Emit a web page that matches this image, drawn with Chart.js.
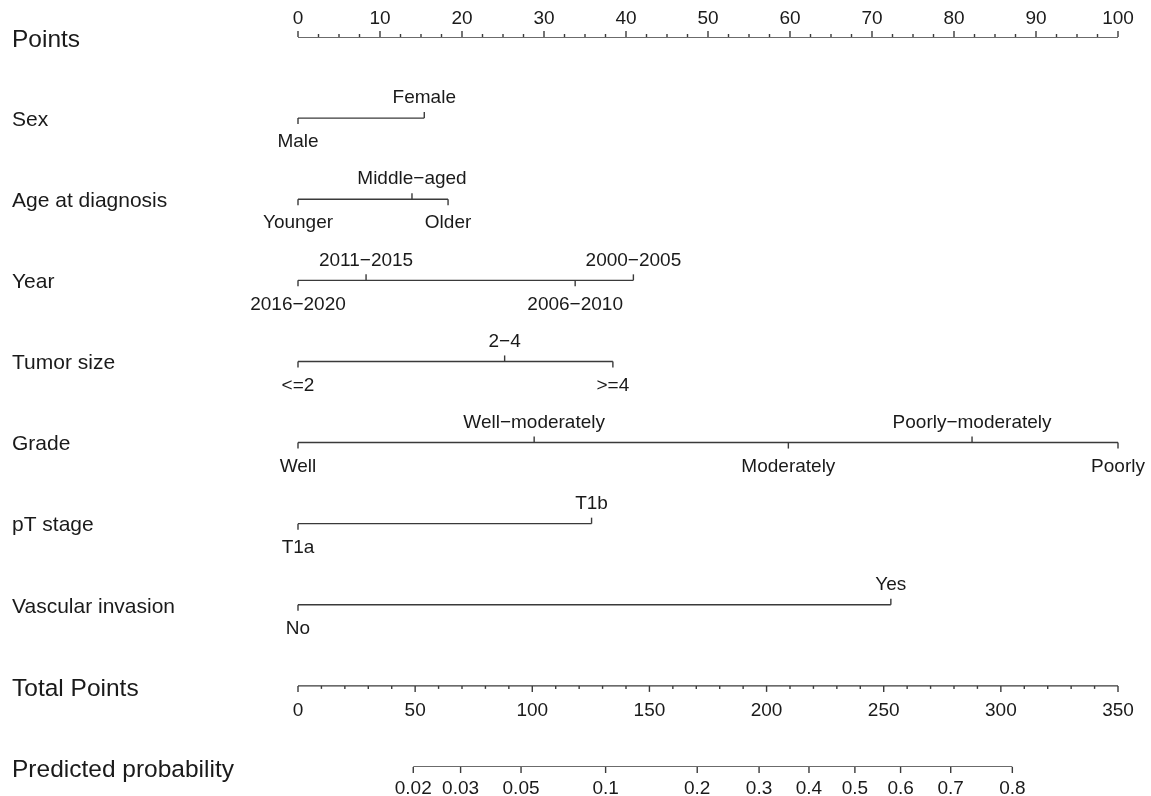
<!DOCTYPE html>
<html>
<head>
<meta charset="utf-8">
<title>Nomogram</title>
<script src="https://cdn.jsdelivr.net/npm/chart.js@4.4.1/dist/chart.umd.min.js"></script>
<style>
  html, body { margin: 0; padding: 0; background: #fff; }
  #wrap { width: 1151px; height: 796px; position: relative; }
</style>
</head>
<body>
<div id="wrap"><canvas id="nomogram"></canvas></div>
<script>
// Row titles, top to bottom
const rowTitles = ["Points", "Sex", "Age at diagnosis", "Year", "Tumor size", "Grade",
  "pT stage", "Vascular invasion", "Total Points", "Predicted probability"];

// Points scale ticks
const pointsTicks = [0, 10, 20, 30, 40, 50, 60, 70, 80, 90, 100];

// Variables: level names and their points (sorted by points)
const sexLevels = ["Male", "Female"];
const sexPoints = [0, 15.4];
const ageLevels = ["Younger", "Middle\u2212aged", "Older"];
const agePoints = [0, 13.9, 18.3];
const yearLevels = ["2016\u22122020", "2011\u22122015", "2006\u22122010", "2000\u22122005"];
const yearPoints = [0, 8.3, 33.8, 40.9];
const tumorLevels = ["<=2", "2\u22124", ">=4"];
const tumorPoints = [0, 25.2, 38.4];
const gradeLevels = ["Well", "Well\u2212moderately", "Moderately", "Poorly\u2212moderately", "Poorly"];
const gradePoints = [0, 28.8, 59.8, 82.2, 100];
const ptLevels = ["T1a", "T1b"];
const ptPoints = [0, 35.8];
const vascLevels = ["No", "Yes"];
const vascPoints = [0, 72.3];

// Total points scale ticks
const totalTicks = [0, 50, 100, 150, 200, 250, 300, 350];

// Predicted probability labels and where they sit on the total points scale
const probLabels = ["0.02", "0.03", "0.05", "0.1", "0.2", "0.3", "0.4", "0.5", "0.6", "0.7", "0.8"];
const probTotals = [49.2, 69.4, 95.2, 131.3, 170.4, 196.8, 218.1, 237.7, 257.2, 278.6, 304.9];

const variables = [
  { row: 1, levels: sexLevels, points: sexPoints },
  { row: 2, levels: ageLevels, points: agePoints },
  { row: 3, levels: yearLevels, points: yearPoints },
  { row: 4, levels: tumorLevels, points: tumorPoints },
  { row: 5, levels: gradeLevels, points: gradePoints },
  { row: 6, levels: ptLevels, points: ptPoints },
  { row: 7, levels: vascLevels, points: vascPoints }
];

const LINE = "#3a3a3a";
const TEXT = "#1a1a1a";
const FONT = "'Liberation Sans', Arial, Helvetica, sans-serif";

function segment(xs, row, axis) {
  return {
    data: [{ x: Math.min.apply(null, xs), y: row }, { x: Math.max.apply(null, xs), y: row }],
    xAxisID: axis,
    borderColor: LINE,
    borderWidth: 1.4,
    pointRadius: 0,
    fill: false,
    tension: 0
  };
}

const datasets = [segment(pointsTicks, 0, "x")];
variables.forEach(function (v) { datasets.push(segment(v.points, v.row, "x")); });
datasets.push(segment(totalTicks, 8, "x2"));
datasets.push(segment(probTotals, 9, "x2"));

const nomogramDecor = {
  id: "nomogramDecor",
  afterDatasetsDraw(chart) {
    const c = chart.ctx;
    const xs = chart.scales.x, x2 = chart.scales.x2, ys = chart.scales.y;
    c.save();
    c.strokeStyle = LINE;
    c.lineWidth = 1.4;
    c.fillStyle = TEXT;
    c.textAlign = "center";
    c.textBaseline = "middle";

    function tick(px, py, len) {
      c.beginPath();
      c.moveTo(px, py);
      c.lineTo(px, py + len);
      c.stroke();
    }

    // Row titles
    c.textAlign = "left";
    rowTitles.forEach(function (t, i) {
      const big = i === 0 || i >= 8;
      c.font = (big ? "24.5px " : "21px ") + FONT;
      c.fillText(t, 12, ys.getPixelForValue(i) + (big ? 3 : 2));
    });
    c.textAlign = "center";
    c.font = "19px " + FONT;

    // Points axis (ticks up, labels above), minor ticks every 2.5
    const y0 = ys.getPixelForValue(0);
    for (let k = 0; k <= 40; k++) {
      tick(xs.getPixelForValue(k * 2.5), y0, k % 4 === 0 ? -6 : -3);
    }
    pointsTicks.forEach(function (v) {
      c.fillText(String(v), xs.getPixelForValue(v), y0 - 18);
    });

    // Variable rows, labels alternate below / above
    variables.forEach(function (v) {
      const py = ys.getPixelForValue(v.row);
      v.points.forEach(function (p, i) {
        const px = xs.getPixelForValue(p);
        const above = i % 2 === 1;
        tick(px, py, above ? -6 : 6);
        c.fillText(v.levels[i], px, above ? py - 20 : py + 24);
      });
    });

    // Total points axis (ticks down, labels below)
    const y8 = ys.getPixelForValue(8);
    for (let v = 0; v <= 350; v += 10) {
      tick(x2.getPixelForValue(v), y8, v % 50 === 0 ? 6 : 3);
    }
    totalTicks.forEach(function (v) {
      c.fillText(String(v), x2.getPixelForValue(v), y8 + 25);
    });

    // Predicted probability axis
    const y9 = ys.getPixelForValue(9);
    probTotals.forEach(function (t, i) {
      const px = x2.getPixelForValue(t);
      tick(px, y9, 6);
      c.fillText(probLabels[i], px, y9 + 22);
    });

    c.restore();
  }
};

new Chart(document.getElementById("nomogram"), {
  type: "line",
  data: { datasets },
  options: {
    responsive: true,
    maintainAspectRatio: false,
    animation: false,
    events: [],
    layout: { padding: { left: 298, right: 33, top: 37, bottom: 29 } },
    plugins: { legend: { display: false }, tooltip: { enabled: false } },
    scales: {
      x: { type: "linear", min: 0, max: 100, display: false },
      x2: { type: "linear", min: 0, max: 350, display: false },
      y: { type: "linear", min: 0, max: 9, reverse: true, display: false }
    }
  },
  plugins: [nomogramDecor]
});
</script>
</body>
</html>
